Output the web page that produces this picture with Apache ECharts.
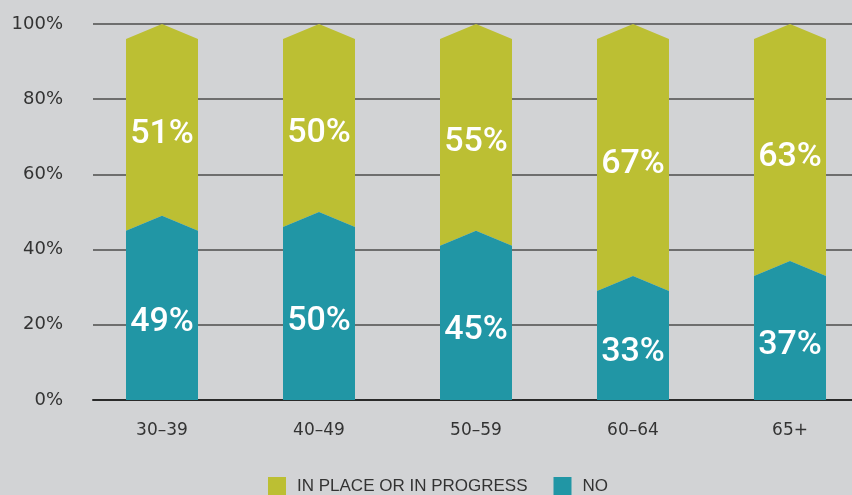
<!DOCTYPE html>
<html lang="en">
<head>
    <meta charset="UTF-8">
    <title>Age groups</title>
    <script src="https://cdn.jsdelivr.net/npm/echarts@6/dist/echarts.min.js"></script>
    <style>
        body{
            margin: 0;
            background: #d2d3d5;
        }
        #chart{
            width: 852px;
            height: 495px;
        }
    </style>
</head>
<body>
<div id="chart"></div>
<script>
    // data
    var categories = ['30–39', '40–49', '50–59', '60–64', '65+'];
    var noValues = [49, 50, 45, 33, 37];
    var inPlaceValues = [51, 50, 55, 67, 63];
    var yTicks = [0, 20, 40, 60, 80, 100];

    var olive = '#bcbf33';
    var teal = '#2196a5';
    var tip = 4;        // chevron depth, in % units
    var barWidth = 72;

    function segment(params, api){
        var idx = api.value(0);
        var lo = api.value(1);
        var hi = api.value(2);
        var flatBottom = lo === 0;
        var c = api.coord([idx, hi]);
        var half = barWidth / 2;
        var x0 = c[0] - half, x1 = c[0] + half;
        var top = c[1];
        var topSide = api.coord([idx, hi - tip])[1];
        var bot = api.coord([idx, lo])[1];
        var botSide = flatBottom ? bot : api.coord([idx, lo - tip])[1];
        var pts = [
            [x0, botSide], [c[0], bot], [x1, botSide],
            [x1, topSide], [c[0], top], [x0, topSide]
        ];
        var mid = api.coord([idx, (lo + hi) / 2])[1] + 15;
        return {
            type: 'group',
            children: [{
                type: 'polygon',
                shape: {points: pts},
                style: {fill: api.visual('color')}
            }, {
                type: 'text',
                style: {
                    text: (hi - lo) + '%',
                    x: c[0], y: mid,
                    fill: '#fff',
                    font: '500 34px Roboto',
                    align: 'center',
                    verticalAlign: 'middle'
                }
            }]
        };
    }

    var noData = [], inPlaceData = [];
    for (var i = 0; i < categories.length; i++) {
        noData.push([i, 0, noValues[i]]);
        inPlaceData.push([i, noValues[i], noValues[i] + inPlaceValues[i]]);
    }

    var myChart = echarts.init(document.getElementById('chart'));
    myChart.setOption({
        backgroundColor: '#d2d3d5',
        animation: false,
        grid: [
            {left: 93, right: 0, top: 24, bottom: 95},
            {left: 162, right: 62, top: 24, bottom: 95}
        ],
        legend: {
            left: 263, top: 472,
            itemWidth: 18, itemHeight: 18, itemGap: 26,
            icon: 'rect',
            textStyle: {fontFamily: 'Liberation Sans', fontSize: 17, color: '#333', padding: [0, 0, 0, 6]},
            data: ['IN PLACE OR IN PROGRESS', 'NO']
        },
        xAxis: [{
            gridIndex: 0, type: 'value', min: 0, max: 1,
            axisLabel: {show: false}, axisTick: {show: false}, splitLine: {show: false},
            axisLine: {show: true, lineStyle: {color: '#2a2a2a', width: 2}}
        }, {
            gridIndex: 1, type: 'value', min: 0, max: categories.length - 1, interval: 1,
            axisLine: {show: false}, axisTick: {show: false}, splitLine: {show: false},
            axisLabel: {
                margin: 22, fontFamily: 'DejaVu Sans', fontSize: 17, color: '#333',
                formatter: function(v){ return categories[v] || ''; }
            }
        }],
        yAxis: [{
            gridIndex: 0, type: 'value', min: 0, max: 100, interval: 20,
            axisLine: {show: false}, axisTick: {show: false},
            axisLabel: {
                margin: 30, fontFamily: 'DejaVu Sans', fontSize: 18, color: '#333',
                formatter: function(v){ return yTicks.indexOf(v) >= 0 ? v + '%' : ''; }
            },
            splitLine: {lineStyle: {color: '#6e6e6e', width: 2}}
        }, {
            gridIndex: 1, type: 'value', min: 0, max: 100, show: false
        }],
        series: [{
            name: 'IN PLACE OR IN PROGRESS',
            type: 'custom',
            xAxisIndex: 1, yAxisIndex: 1,
            clip: false,
            itemStyle: {color: olive},
            renderItem: segment,
            data: inPlaceData
        }, {
            name: 'NO',
            type: 'custom',
            xAxisIndex: 1, yAxisIndex: 1,
            clip: false,
            itemStyle: {color: teal},
            renderItem: segment,
            data: noData
        }]
    });
</script>
</body>
</html>
